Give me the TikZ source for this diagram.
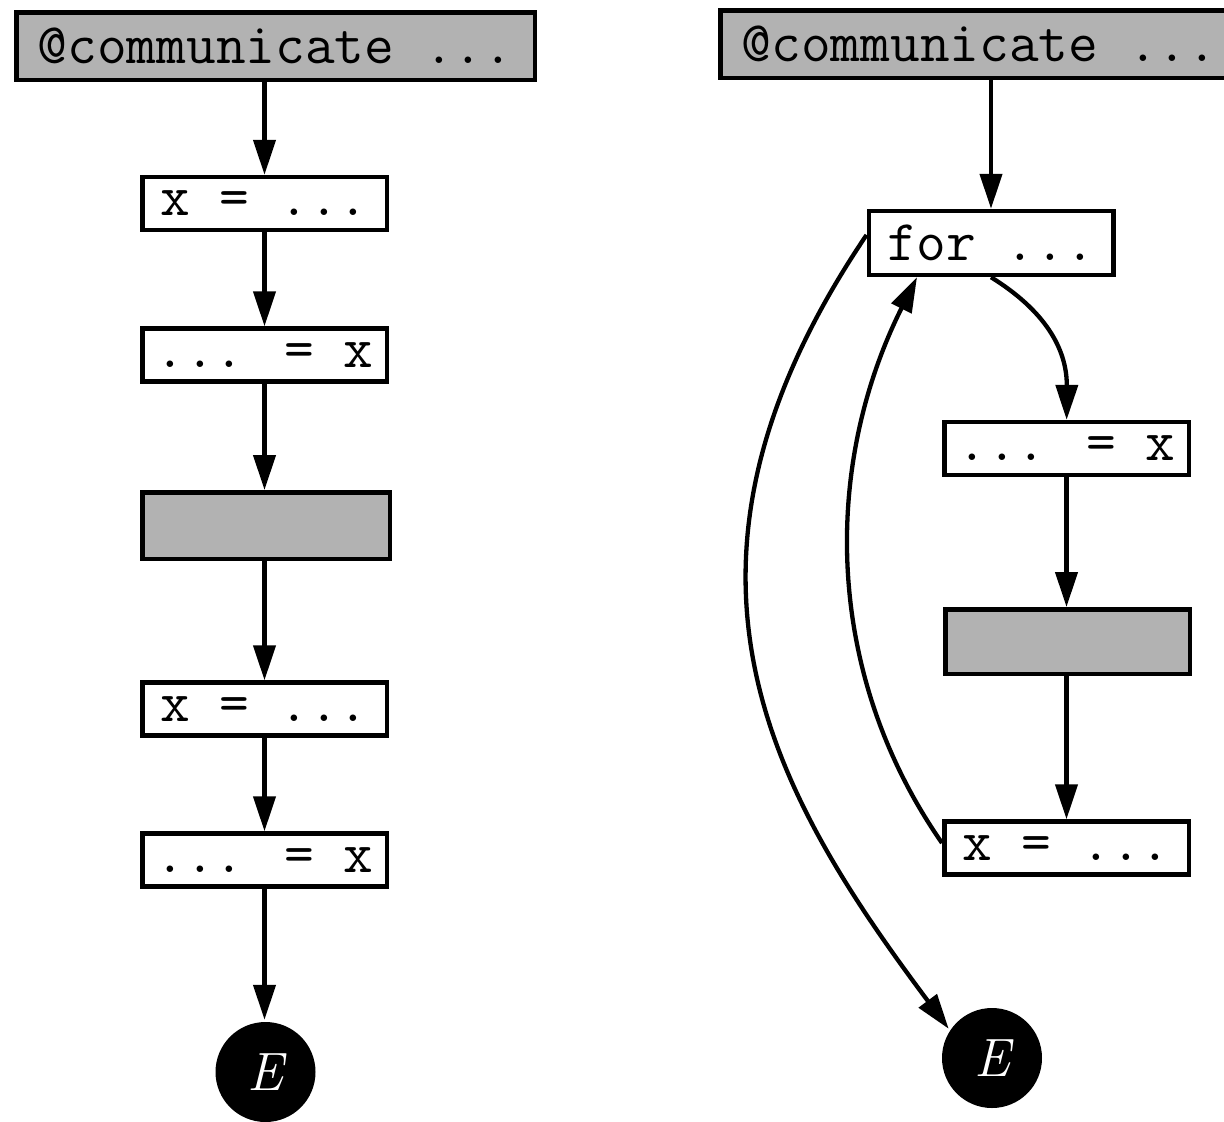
\documentclass[tikz,border=0pt]{standalone}
\usepackage{fontspec}
\usetikzlibrary{arrows.meta,calc}
\newcommand{\codefont}{\fontsize{57.7}{66}\selectfont\ttfamily}
\begin{document}
\begin{tikzpicture}[x=1pt,y=-1pt,
  every node/.style={line width=4.5pt},
  box/.style={draw, rectangle, inner xsep=0pt, inner ysep=14pt,
              minimum width=244.5pt, fill=white, font=\codefont},
  topbox/.style={box, fill=black!30, minimum width=518.5pt, minimum height=67.5pt},
  graybox/.style={draw, rectangle, fill=black!30, minimum width=247.5pt, minimum height=66.5pt},
  endnode/.style={circle, fill=black, draw=none, minimum size=100pt, inner sep=0pt,
                  text=white, font=\fontsize{54}{54}\selectfont\itshape},
  arr/.style={line width=4.3pt, -{Triangle[length=35pt,width=22pt]}}]
\useasboundingbox (0,0) rectangle (1224,1122);

% straight-line version
\node[topbox] (c1) at (275.5,46) {@communicate ...};
\node[box] (a1) at (264.5,203.5) {x = ...};
\node[box] (a2) at (264.5,355) {... = x};
\node[graybox] (g1) at (266,525.5) {};
\node[box] (a3) at (264.5,709) {x = ...};
\node[box] (a4) at (264.5,860) {... = x};
\node[endnode] (e1) at (265.5,1072) {E};

\draw[arr] (c1.south -| a1) -- (a1.north);
\draw[arr] (a1) -- (a2);
\draw[arr] (a2.south) -- (a2.south |- g1.north);
\draw[arr] (g1.south -| a3) -- (a3.north);
\draw[arr] (a3) -- (a4);
\draw[arr] (a4.south) -- (a4.south |- e1.north);

% loop version
\node[topbox] (c2) at (979.5,44) {@communicate ...};
\node[box, minimum height=63.5pt] (for) at (991,243) {for ...};
\node[box] (b1) at (1066.5,448.5) {... = x};
\node[graybox, minimum width=244.5pt, minimum height=64.5pt] (g2) at (1067.5,641.5) {};
\node[box] (b2) at (1066.5,848) {x = ...};
\node[endnode] (e2) at (992,1058) {E};

\draw[arr] (c2.south -| for) -- (for.north);
\draw[arr] (for.south) .. controls (1044,310) and (1067,348) .. (b1);
\draw[arr] (b1.south) -- (b1.south |- g2.north);
\draw[arr] (g2.south -| b2) -- (b2.north);
\draw[arr] ([yshift=5pt]b2.west) .. controls (823,672) and (823,465) .. ([xshift=-74pt]for.south);
\draw[arr] ([yshift=8pt]for.west) .. controls (642,567) and (770,790) .. (e2.146);
\end{tikzpicture}
\end{document}
